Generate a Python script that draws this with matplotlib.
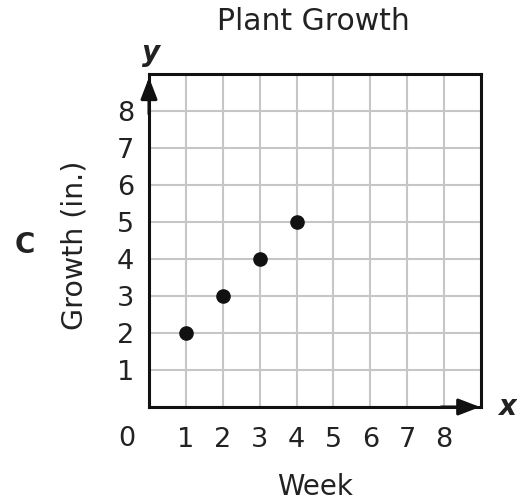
import matplotlib
matplotlib.use("Agg")
import matplotlib.pyplot as plt

weeks = [1, 2, 3, 4]
growth = [2, 3, 4, 5]
x_ticks = [1, 2, 3, 4, 5, 6, 7, 8]
y_ticks = [1, 2, 3, 4, 5, 6, 7, 8]

W, H = 517, 504
plt.rcParams['font.family'] = ['DejaVu Sans']
fig = plt.figure(figsize=(W / 100, H / 100), dpi=100)
ax = fig.add_axes([149 / W, 1 - 407 / H, (481 - 149) / W, (407 - 74) / H])
ax.set_xlim(0, 9)
ax.set_ylim(0, 9)
ax.set_xticks(list(range(0, 10)))
ax.set_yticks(list(range(0, 10)))
ax.set_xticklabels([''] + [str(v) for v in x_ticks] + [''])
ax.set_yticklabels([''] + [str(v) for v in y_ticks] + [''])
ax.grid(True, color='#c6c6c6', linewidth=1.5)
ax.set_axisbelow(True)
for s in ax.spines.values():
    s.set_linewidth(2.2)
    s.set_color('#111111')
    s.set_capstyle('projecting')
ax.tick_params(length=0, labelsize=19.5, colors='#222222')
ax.tick_params(axis='x', pad=14.5)
ax.tick_params(axis='y', pad=10.5)

def ftext(px, py, s, **kw):
    fig.text(px / W, 1 - py / H, s, ha='center', va='center', color='#222222', **kw)

ftext(127, 438.5, '0', fontsize=19.5)

ax.plot(weeks, growth, 'o', color='#111111', markersize=9.5, zorder=5, clip_on=False)

# arrows
ax.annotate('', xy=(0, 0.99), xytext=(0, 0.88), xycoords='axes fraction',
            arrowprops=dict(arrowstyle='-|>,head_length=1.3,head_width=0.5', color='#111111', lw=2.2,
                            shrinkA=0, shrinkB=0),
            annotation_clip=False)
ax.annotate('', xy=(0.997, 0), xytext=(0.88, 0), xycoords='axes fraction',
            arrowprops=dict(arrowstyle='-|>,head_length=1.3,head_width=0.5', color='#111111', lw=2.2,
                            shrinkA=0, shrinkB=0),
            annotation_clip=False)

ftext(151, 53, 'y', fontsize=20, fontweight='bold', style='italic')
ftext(507, 407, 'x', fontsize=20, fontweight='bold', style='italic')
ftext(313, 22, 'Plant Growth', fontsize=21.5)
ftext(315, 487, 'Week', fontsize=20)
ftext(75, 245, 'Growth (in.)', fontsize=20.5, rotation=90)
ftext(25, 245, 'C', fontsize=20, fontweight='bold')

fig.savefig('out.png', dpi=100)
